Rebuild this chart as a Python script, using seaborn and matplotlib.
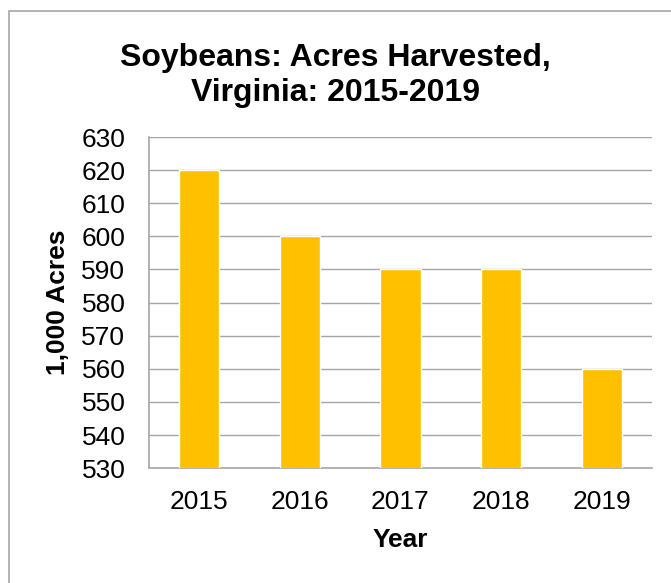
import matplotlib
matplotlib.use("Agg")
import matplotlib.pyplot as plt
import seaborn as sns
import pandas as pd
from matplotlib.patches import Rectangle

years = ["2015", "2016", "2017", "2018", "2019"]
acres = [620, 600, 590, 590, 560]
yticks = list(range(530, 631, 10))

data = pd.DataFrame({"Year": years, "Acres": acres})

sns.set_style("white")
plt.rcParams["font.family"] = ["Liberation Sans", "DejaVu Sans"]
plt.rcParams["text.color"] = "black"
plt.rcParams["axes.labelcolor"] = "black"
plt.rcParams["xtick.color"] = "black"
plt.rcParams["ytick.color"] = "black"

fig = plt.figure(figsize=(6.71, 5.83), dpi=100)
ax = fig.add_axes([0.222, 0.197, 0.7497, 0.568])

# outer chart border (only left/top visible in the reference)
fig.patches.append(Rectangle((9 / 671, -0.05), 1.2, 1 - 10.5 / 583 + 0.05,
                             transform=fig.transFigure, fill=False,
                             edgecolor="#a6a6a6", linewidth=1.2))

sns.barplot(data=data, x="Year", y="Acres", color="#FFC000", width=0.4,
            saturation=1, ax=ax, zorder=3)

ax.set_ylim(530, 630)
ax.set_yticks(yticks)
ax.yaxis.grid(True, color="#a6a6a6", linewidth=1)
ax.set_axisbelow(True)
for s in ["top", "right"]:
    ax.spines[s].set_visible(False)
for s in ["left", "bottom"]:
    ax.spines[s].set_color("#a6a6a6")
    ax.spines[s].set_linewidth(1.2)

ax.set_xticks([x + 0.5 for x in range(-1, 5)], minor=True)
ax.tick_params(axis="x", which="major", length=0, pad=16, labelsize=19,
               labelcolor="black")
ax.tick_params(axis="x", which="minor", length=8, color="#a6a6a6", width=1.2)
ax.tick_params(axis="y", length=0, pad=17, labelsize=19, labelcolor="black")

ax.set_xlabel("Year", fontsize=19, fontweight="bold", labelpad=10)
ax.set_ylabel("1,000 Acres", fontsize=19, fontweight="bold", labelpad=8)

fig.text(0.5, 0.87, "Soybeans: Acres Harvested,\nVirginia: 2015-2019",
         ha="center", va="center", fontsize=23, fontweight="bold",
         linespacing=1.22, color="black")

fig.savefig("out.png", dpi=100)
